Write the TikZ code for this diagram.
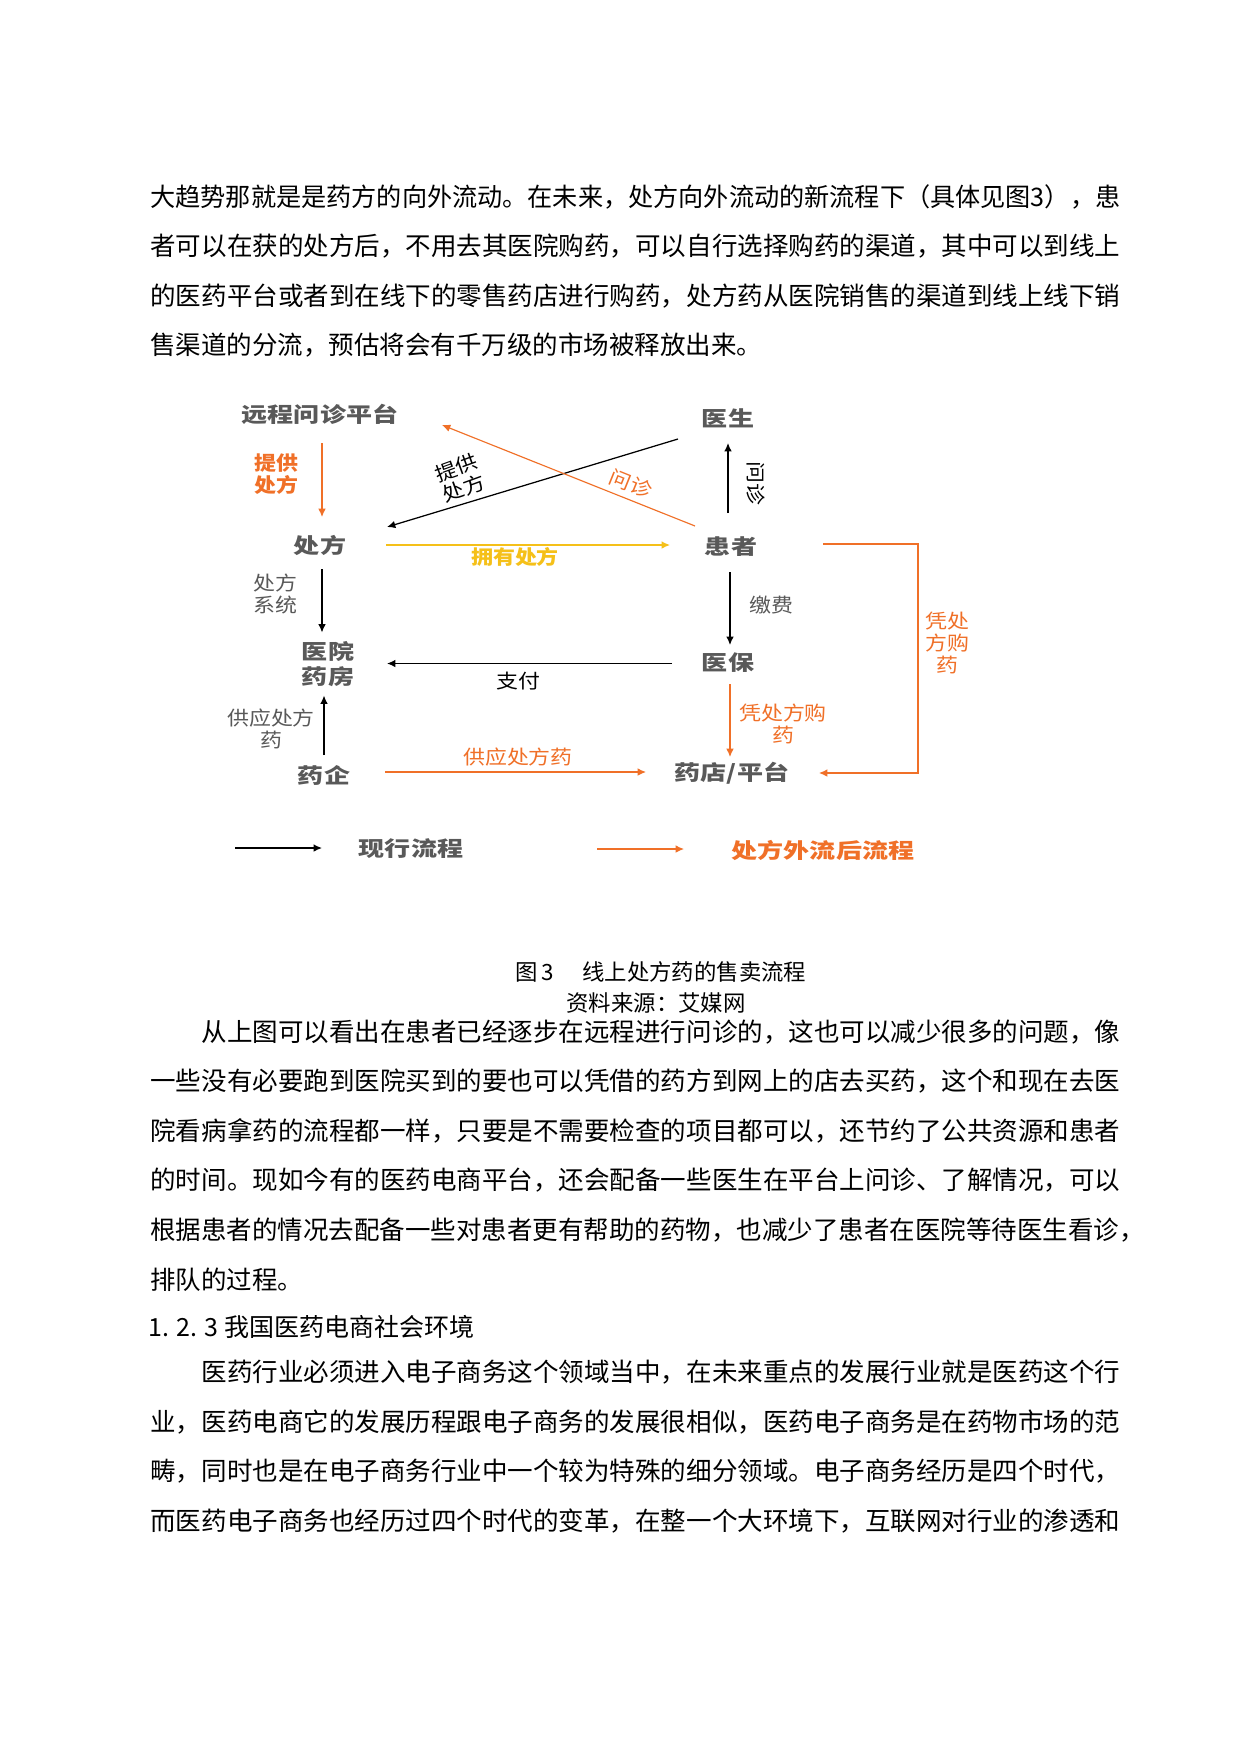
\documentclass[tikz,border=0pt]{standalone}
\usepackage{fontspec}
\usepackage{graphicx}
\usetikzlibrary{arrows.meta,calc}
\setmainfont{Noto Sans CJK SC}
\newfontfamily\dgb[FakeStretch=1.25]{Noto Sans CJK SC}
\newfontfamily\dgr[FakeStretch=1.12]{Noto Sans CJK SC}
\definecolor{dgrey}{RGB}{89,89,89}
\definecolor{dor}{RGB}{240,112,40}
\definecolor{dyel}{RGB}{245,192,25}
\newlength\LW
\setlength\LW{465.6pt}
\newcommand\fl[1]{\resizebox{\LW}{\height}{\mbox{#1}}}
\begin{document}
\begin{tikzpicture}[x=0.48pt,y=-0.48pt,
  mainlbl/.style={font=\dgb\bfseries\fontsize{10}{12}\selectfont, text=dgrey, inner sep=0pt, align=center},
  smalltxt/.style={font=\dgr\fontsize{9.4}{10.6}\selectfont, inner sep=0pt, align=center},
  smallbold/.style={font=\dgr\bfseries\fontsize{9.4}{10.6}\selectfont, inner sep=0pt, align=center},
  bodytxt/.style={anchor=west, inner sep=0pt, font=\fontsize{12.24}{14}\selectfont},
  captxt/.style={inner sep=0pt, font=\fontsize{10.75}{13}\selectfont},
  blk/.style={draw=black, line width=0.6pt, -{Latex[length=4pt,width=3.6pt]}},
  orn/.style={draw=dor, line width=0.55pt, -{Latex[length=4pt,width=3.6pt]}},
  yel/.style={draw=dyel, line width=0.6pt, -{Latex[length=4pt,width=3.6pt]}}]
\useasboundingbox[fill=white] (0,0) rectangle (1240,1754);

% paragraph 1
\node[bodytxt] (p1a) at (150,197) {\fl{大趋势那就是是药方的向外流动。在未来，处方向外流动的新流程下（具体见图3），患}};
\node[bodytxt] (p1b) at (150,246.5) {\fl{者可以在获的处方后，不用去其医院购药，可以自行选择购药的渠道，其中可以到线上}};
\node[bodytxt] (p1c) at (150,296) {\fl{的医药平台或者到在线下的零售药店进行购药，处方药从医院销售的渠道到线上线下销}};
\node[bodytxt] (p1d) at (150,345.5) {售渠道的分流，预估将会有千万级的市场被释放出来。};

% diagram nodes
\node[mainlbl] (ycpt) at (320,414) {远程问诊平台};
\node[mainlbl] (ys) at (728,418) {医生};
\node[mainlbl] (cf) at (320,545) {处方};
\node[mainlbl] (hz) at (731,547) {患者};
\node[mainlbl] (yy) at (328,664.5) {医院\\药房};
\node[mainlbl] (yb) at (728,663) {医保};
\node[mainlbl] (yq) at (324,775) {药企};
\node[mainlbl] (yd) at (732,773) {药店/平台};

% connectors
\draw[orn] ($(ycpt)+(2,29)$) -- ($(cf)+(2,-28)$);
\draw[blk] ($(ys)+(-50,21)$) -- ($(cf)+(67,-18)$);
\draw[orn] ($(hz)+(-36,-21)$) -- ($(ycpt)+(122,11)$);
\draw[blk] ($(hz)+(-3,-34)$) -- ($(ys)+(0,25)$);
\draw[yel] ($(cf)+(66,0)$) -- ($(hz)+(-61,-2)$);
\draw[blk] ($(cf)+(2,24)$) -- ($(yy)+(-6,-32)$);
\draw[blk] ($(hz)+(-1,25)$) -- ($(yb)+(2,-18)$);
\draw[blk] ($(yb)+(-56,0.5)$) -- ($(yy)+(59,-1)$);
\draw[orn] ($(yb)+(2,21)$) -- ($(yd)+(-2,-16)$);
\draw[blk] ($(yq)+(0,-20)$) -- ($(yy)+(-4,31)$);
\draw[orn] ($(yq)+(61,-3)$) -- ($(yd)+(-86,-1)$);
\draw[orn] ($(hz)+(92,-3)$) -- ++(95,0) |- ($(yd)+(87,0)$);

% connector labels
\node[smallbold, text=dor] (ltg) at (276,474) {提供\\处方};
\node[smalltxt, rotate=20] (ltg2) at (460,478) {提供\\处方};
\node[smalltxt, text=dor, rotate=-22] (lwz) at (631,484) {问诊};
\node[smalltxt, rotate=-90] (lwz2) at (756,483) {问诊};
\node[smallbold, text=dyel] (lyy) at (515,557) {拥有处方};
\node[smalltxt, text=dgrey] (lxt) at (275,594) {处方\\系统};
\node[smalltxt, text=dgrey] (ljf) at (771,605) {缴费};
\node[smalltxt] (lzf) at (518,681) {支付};
\node[smalltxt, text=dor] (lpc) at (783,724) {凭处方购\\药};
\node[smalltxt, text=dor] (lpc2) at (947,643) {凭处\\方购\\药};
\node[smalltxt, text=dgrey] (lgy) at (271,729) {供应处方\\药};
\node[smalltxt, text=dor] (lgy2) at (518,757) {供应处方药};

% legend
\coordinate (l1a) at (235,848);
\coordinate (l1b) at (322,848);
\draw[blk] (l1a) -- (l1b);
\node[mainlbl] (lg1) at (411,849) {现行流程};
\coordinate (l2a) at (597,849);
\coordinate (l2b) at (684,849);
\draw[orn] (l2a) -- (l2b);
\node[mainlbl, text=dor] (lg2) at (823,850) {处方外流后流程};

% caption
\node[captxt] (cap1) at (661,972) {图\,3\hspace{1.25em}线上处方药的售卖流程};
\node[captxt] (cap2) at (656,1003) {资料来源：艾媒网};

% paragraph 2
\node[bodytxt] (p2a) at (150,1032) {\fl{\hspace{2em}从上图可以看出在患者已经逐步在远程进行问诊的，这也可以减少很多的问题，像}};
\node[bodytxt] (p2b) at (150,1081.5) {\fl{一些没有必要跑到医院买到的要也可以凭借的药方到网上的店去买药，这个和现在去医}};
\node[bodytxt] (p2c) at (150,1131) {\fl{院看病拿药的流程都一样，只要是不需要检查的项目都可以，还节约了公共资源和患者}};
\node[bodytxt] (p2d) at (150,1180.5) {\fl{的时间。现如今有的医药电商平台，还会配备一些医生在平台上问诊、了解情况，可以}};
\node[bodytxt] (p2e) at (150,1230) {根据患者的情况去配备一些对患者更有帮助的药物，也减少了患者在医院等待医生看诊，};
\node[bodytxt] (p2f) at (150,1279.5) {排队的过程。};

% heading
\node[bodytxt, font=\fontsize{12}{14}\selectfont] (h123) at (148,1327) {1. 2. 3 我国医药电商社会环境};

% paragraph 3
\node[bodytxt] (p3a) at (150,1372) {\fl{\hspace{2em}医药行业必须进入电子商务这个领域当中，在未来重点的发展行业就是医药这个行}};
\node[bodytxt] (p3b) at (150,1422) {\fl{业，医药电商它的发展历程跟电子商务的发展很相似，医药电子商务是在药物市场的范}};
\node[bodytxt] (p3c) at (150,1471.5) {\fl{畴，同时也是在电子商务行业中一个较为特殊的细分领域。电子商务经历是四个时代，}};
\node[bodytxt] (p3d) at (150,1521) {\fl{而医药电子商务也经历过四个时代的变革，在整一个大环境下，互联网对行业的渗透和}};
\end{tikzpicture}
\end{document}
